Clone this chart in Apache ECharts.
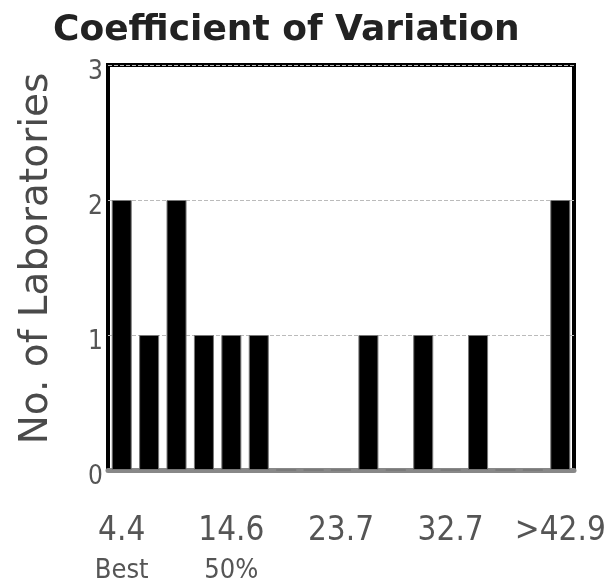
<!DOCTYPE html>
<html><head><meta charset="utf-8">
<script src="https://cdn.jsdelivr.net/npm/echarts@6/dist/echarts.min.js"></script>
<style>html,body{margin:0;padding:0;background:#fff}#c{width:614px;height:584px}</style>
</head><body><div id="c"></div>
<script>
const titleText = 'Coefficient of Variation';
const yAxisName = 'No. of Laboratories';
const binLabels = ['4.4','','','','14.6','','','','23.7','','','','32.7','','','','>42.9'];
const binNotes  = ['Best','','','','50%','','','','','','','','','','','',''];
const labCounts = [2,1,2,1,1,1,0,0,0,1,0,1,0,1,0,0,2];
const yTicks = [0,1,2,3];

const chart = echarts.init(document.getElementById('c'), null, {renderer:'canvas'});
const idx = binLabels.map((_, i) => String(i));
chart.setOption({
  animation:false,
  title:{text:titleText,left:48,top:8,textStyle:{fontFamily:'DejaVu Sans',fontWeight:'bold',fontSize:36,color:'#222'}},
  grid:{left:108,right:40,top:65,bottom:113,show:true,borderColor:'#000',borderWidth:4,backgroundColor:'#fff'},
  xAxis:{type:'category',data:idx,
    axisLine:{show:true,lineStyle:{color:'#888',width:5}},
    axisTick:{show:false},
    axisLabel:{interval:0,margin:42,color:'#555',
      formatter:(v,i)=> binLabels[i] ? (binNotes[i] ? '{a|'+binLabels[i]+'}\n{b|'+binNotes[i]+'}' : '{a|'+binLabels[i]+'}') : '',
      rich:{a:{fontSize:33,lineHeight:39,color:'#555',fontFamily:'DejaVu Sans Condensed'},
            b:{fontSize:27,lineHeight:39,color:'#555',fontFamily:'DejaVu Sans Condensed'}}}},
  yAxis:{type:'value',min:0,max:3,interval:1,
    name:yAxisName,nameLocation:'middle',nameRotate:90,nameGap:52,
    nameTextStyle:{fontSize:39,color:'#4a4a4a',fontFamily:'DejaVu Sans',padding:[0,0,0,18]},
    axisLine:{show:false},axisTick:{show:false},
    axisLabel:{margin:5,fontSize:26,color:'#555',fontFamily:'DejaVu Sans Condensed',verticalAlign:'top',lineHeight:14,
      formatter:v=>yTicks.includes(v)?String(v):''},
    splitLine:{show:true,lineStyle:{color:'#bbb',type:'dashed',width:1}}},
  series:[{type:'bar',data:labCounts,barCategoryGap:'27%',
    itemStyle:{color:'#000',borderColor:'#777',borderWidth:1}}]
});
</script></body></html>
